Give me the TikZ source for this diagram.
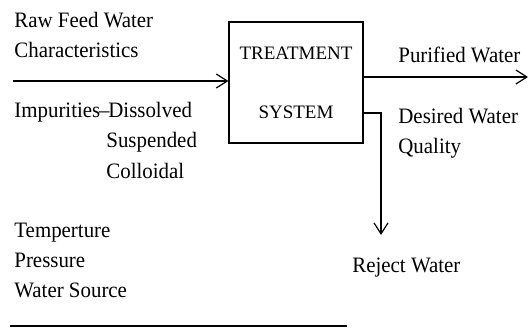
\documentclass[tikz,border=0pt]{standalone}
\usepackage{fontspec}
\setmainfont{Liberation Serif}
\newfontfamily\labelfont[FakeStretch=0.95,Ligatures=TeX]{Liberation Serif}
\usetikzlibrary{arrows.meta,positioning}

\begin{document}
\begin{tikzpicture}[x=0.5pt,y=-0.5pt]
  \tikzset{TextNode/.style = {inner sep = 0pt, anchor = base west, font = \labelfont\fontsize{11}{15}\selectfont}};
  \tikzset{BoxNode/.style = {shape = rectangle, draw, line width = 0.6pt, minimum width = 67pt, minimum height = 60.5pt, align = center, font = \fontsize{9.5}{15}\selectfont}};
  \tikzset{FlowStyle/.style = {-{Straight Barb[length=5.5pt,width=7pt]}, line width = 0.6pt}};

  \useasboundingbox (0,0) rectangle (531,332);

  \node[BoxNode] (treatment) at (296,82.5) {TREATMENT\\[14.5pt]SYSTEM};

  \node[TextNode] (raw feed) at (14,27) {Raw Feed Water};
  \node[TextNode, below = 15pt of raw feed.base west, anchor = base west] (characteristics) {Characteristics};
  \node[TextNode] (impurities) at (14,117) {Impurities\kern-0.6pt--\kern-0.6pt Dissolved};
  \node[TextNode] (suspended) at (106,148) {Suspended};
  \node[TextNode, below = 15pt of suspended.base west, anchor = base west] (colloidal) {Colloidal};
  \node[TextNode] (temperature) at (14,237) {Temperture};
  \node[TextNode, below = 15pt of temperature.base west, anchor = base west] (pressure) {Pressure};
  \node[TextNode, below = 15pt of pressure.base west, anchor = base west] (source) {Water Source};

  \node[TextNode] (purified) at (398,62) {Purified Water};
  \node[TextNode] (desired) at (398,123) {Desired Water};
  \node[TextNode, below = 15pt of desired.base west, anchor = base west] (quality) {Quality};
  \node[TextNode] (reject) at (352,272) {Reject Water};

  \coordinate (feed in) at (13,81);
  \coordinate (pure out) at (528,77);
  \coordinate (reject turn) at (381,113);
  \coordinate (reject out) at (381,235);
  \coordinate (rule left) at (10,326);
  \coordinate (rule right) at (347,326);

  \draw[FlowStyle] (feed in) -- (feed in -| treatment.west);
  \draw[FlowStyle] (treatment.east |- pure out) -- (pure out);
  \draw[FlowStyle] (treatment.east |- reject turn) -- (reject turn) -- (reject out);
  \draw[line width = 0.6pt] (rule left) -- (rule right);
\end{tikzpicture}
\end{document}
